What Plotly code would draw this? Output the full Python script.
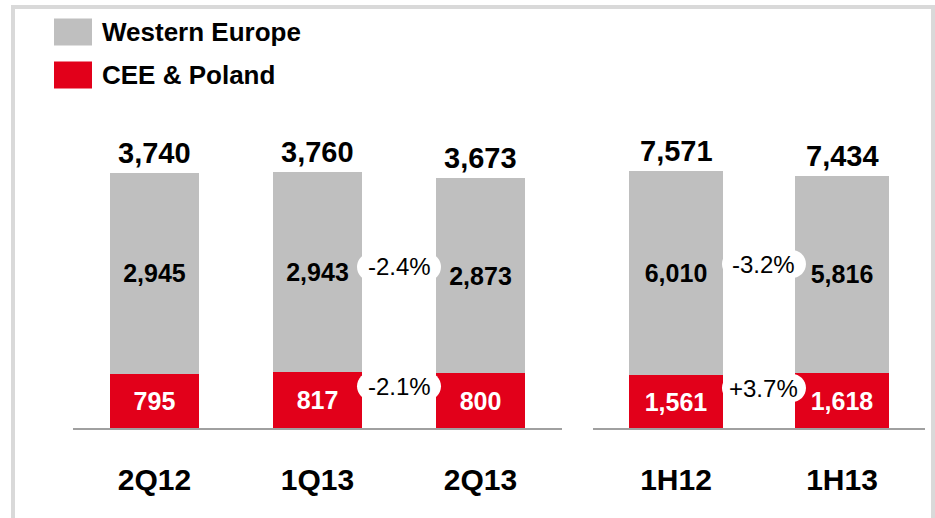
import plotly.graph_objects as go

# ---- data ----
cat_q = ["2Q12", "1Q13", "2Q13"]
cat_h = ["1H12", "1H13"]
we_q = [2945, 2943, 2873]
cee_q = [795, 817, 800]
we_h = [6010, 5816]
cee_h = [1561, 1618]
series_names = ["Western Europe", "CEE & Poland"]

GRAY = "#BFBFBF"
RED = "#E2001A"
FONT = "Liberation Sans, Arial, sans-serif"
W, H = 935, 518


def fmt(v):
    return f"{v:,}"


def pct(a, b):
    p = (b - a) / a * 100
    return f"{p:+.1f}%" if p > 0 else f"{p:.1f}%"


fig = go.Figure()

groups = [
    (cat_q, we_q, cee_q, "x", "y"),
    (cat_h, we_h, cee_h, "x2", "y2"),
]
for cats, we, cee, xa, ya in groups:
    wid = 0.552 if xa == "x" else 0.566
    fig.add_trace(go.Bar(
        x=cats, y=cee, name=series_names[1], marker_color=RED, width=wid,
        xaxis=xa, yaxis=ya, text=[fmt(v) for v in cee], textposition="inside",
        insidetextanchor="middle", constraintext="none",
        textfont=dict(family=FONT, size=25, color="white", weight="bold"),
        marker_line_width=0, showlegend=False, hoverinfo="skip"))
    fig.add_trace(go.Bar(
        x=cats, y=we, name=series_names[0], marker_color=GRAY, width=wid,
        xaxis=xa, yaxis=ya, text=[fmt(v) for v in we], textposition="inside",
        insidetextanchor="middle", constraintext="none",
        textfont=dict(family=FONT, size=25, color="black", weight="bold"),
        marker_line_width=0, showlegend=False, hoverinfo="skip"))

annotations = []
shapes = []

# totals
for cats, we, cee, xa, ya in groups:
    for c, a, b in zip(cats, we, cee):
        annotations.append(dict(
            x=c, y=a + b, xref=xa, yref=ya, text=f"<b>{fmt(a + b)}</b>",
            showarrow=False, yanchor="bottom", yshift=2,
            font=dict(family=FONT, size=29, color="black")))

# change bubbles


def pill(xanchor, yanchor, xref, yref, dy):
    w, h, r = 42, 14, 14
    k = 0.55 * r
    p = (f"M {-w + r},{-h + dy} L {w - r},{-h + dy} "
         f"C {w - r + k},{-h + dy} {w},{-k + dy} {w},{dy} "
         f"C {w},{k + dy} {w - r + k},{h + dy} {w - r},{h + dy} "
         f"L {-w + r},{h + dy} "
         f"C {-w + r - k},{h + dy} {-w},{k + dy} {-w},{dy} "
         f"C {-w},{-k + dy} {-w + r - k},{-h + dy} {-w + r},{-h + dy} Z")
    return dict(type="path", xref=xref, yref=yref, xsizemode="pixel",
                ysizemode="pixel", xanchor=xanchor, yanchor=yanchor, path=p,
                fillcolor="white", line=dict(width=0), layer="above")


bubbles = [
    # (xanchor, y data, xref, yref, text, pixel shift)
    (1.5, cee_q[1] + we_q[1] / 2, "x", "y", pct(we_q[1], we_q[2]), 5),
    (1.5, cee_q[1], "x", "y", pct(cee_q[1], cee_q[2]), -14),
    (0.53, cee_h[0] + we_h[0] / 2, "x2", "y2", pct(we_h[0], we_h[1]), 9),
    (0.53, cee_h[0], "x2", "y2", pct(cee_h[0], cee_h[1]), -13),
]
for xa_, yv, xr, yr, txt, dy in bubbles:
    shapes.append(pill(xa_, yv, xr, yr, dy))
    annotations.append(dict(
        x=xa_, y=yv, xref=xr, yref=yr, text=txt, showarrow=False,
        yshift=dy, font=dict(family=FONT, size=24, color="black")))

# legend (manual)
leg_cols = [GRAY, RED]
leg_y = [32, 75]
for name, col, yc in zip(series_names, leg_cols, leg_y):
    shapes.append(dict(type="rect", xref="paper", yref="paper",
                       x0=54 / W, x1=92 / W,
                       y0=(H - yc - 13.5) / H, y1=(H - yc + 13.5) / H,
                       fillcolor=col, line=dict(width=0)))
    annotations.append(dict(
        x=100 / W, y=(H - yc) / H, xref="paper", yref="paper",
        text=f"<b>{name}</b>", showarrow=False, xanchor="left",
        yanchor="middle", font=dict(family=FONT, size=26, color="black")))

# outer frame
shapes.append(dict(type="rect", xref="paper", yref="paper",
                   x0=13 / W, x1=933 / W, y0=-0.05, y1=(H - 7) / H,
                   line=dict(color="#D9D9D9", width=4), layer="below"))

y_bot = (H - 428) / H
y_top = (H - 100) / H
axis_common = dict(
    showline=True, linecolor="#A0A0A0", linewidth=2, ticks="",
    ticklabelstandoff=24, showgrid=False, zeroline=False,
    tickfont=dict(family=FONT, size=30, color="black", weight="bold"),
    fixedrange=True)
fig.update_layout(
    width=W, height=H, margin=dict(l=0, r=0, t=0, b=0),
    paper_bgcolor="white", plot_bgcolor="white", barmode="stack",
    xaxis=dict(domain=[73 / W, 562 / W], range=[-0.5, 2.5], anchor="y",
               type="category", **axis_common),
    xaxis2=dict(domain=[593 / W, 925 / W], range=[-0.5, 1.5], anchor="y2",
                type="category", **axis_common),
    yaxis=dict(domain=[y_bot, y_top], range=[0, 4811], visible=False,
               anchor="x"),
    yaxis2=dict(domain=[y_bot, y_top], range=[0, 9664], visible=False,
                anchor="x2"),
    annotations=annotations, shapes=shapes, showlegend=False,
    font=dict(family=FONT), hovermode=False,
)

fig.write_html(
    "out.html",
    config={"displayModeBar": False, "staticPlot": True},
    post_script="document.body.style.margin='0';document.body.style.overflow='hidden';",
)
